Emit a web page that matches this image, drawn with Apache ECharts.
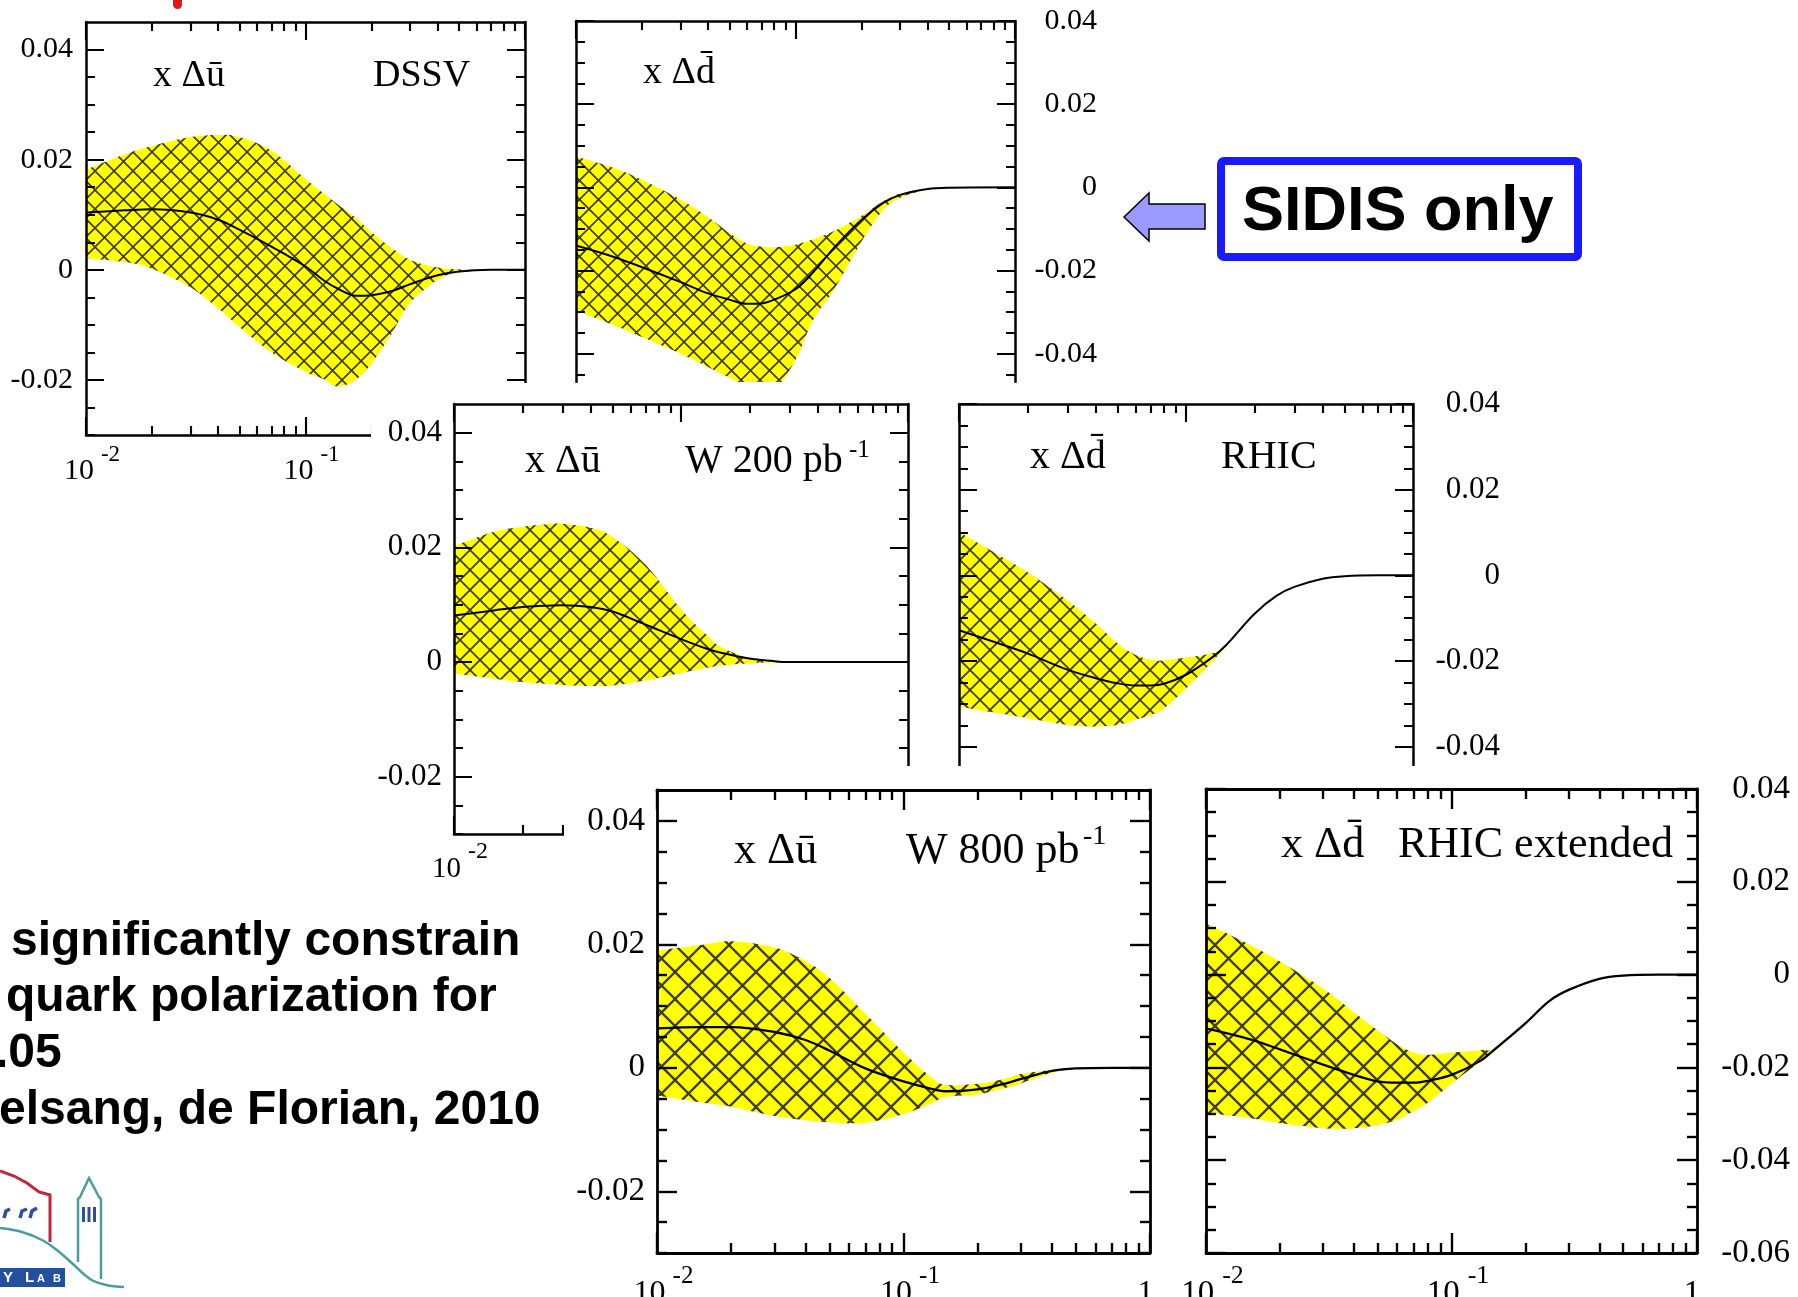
<!DOCTYPE html>
<html>
<head>
<meta charset="utf-8">
<script src="https://cdn.jsdelivr.net/npm/echarts@6/dist/echarts.min.js"></script>
<style>
  html, body { margin: 0; padding: 0; background: #fff; }
  #c { width: 1798px; height: 1297px; }
</style>
</head>
<body>
<div id="c"></div>
<script>
// ---- tick positions ----
const X_MINOR = [0.02, 0.03, 0.04, 0.05, 0.06, 0.07, 0.08, 0.09, 0.2, 0.3, 0.4, 0.5, 0.6, 0.7, 0.8, 0.9];
const Y_MAJOR = [-0.06, -0.04, -0.02, 0, 0.02, 0.04];
const Y_MINOR = [-0.055, -0.05, -0.045, -0.035, -0.03, -0.025, -0.015, -0.01, -0.005,
                 0.005, 0.01, 0.015, 0.025, 0.03, 0.035];

// ---- x Δū, DSSV (SIDIS only) ----
const ubarSidisX   = [0.01, 0.015, 0.02, 0.03, 0.04, 0.05, 0.07, 0.1, 0.12, 0.14, 0.17, 0.2, 0.25, 0.3, 0.4, 0.5, 0.7, 1];
const ubarSidisHi  = [0.0182, 0.021, 0.0225, 0.0241, 0.0245, 0.0241, 0.0216, 0.0165, 0.014, 0.0119, 0.0094, 0.0068, 0.0038, 0.0018, 0.0004, 0.0001, 0, 0];
const ubarSidisMid = [0.0104, 0.0108, 0.011, 0.0104, 0.0091, 0.0073, 0.0042, 0.0006, -0.0018, -0.0034, -0.0047, -0.0046, -0.0038, -0.0026, -0.001, -0.0003, 0, 0];
const ubarSidisLo  = [0.0021, 0.0014, 0.0002, -0.0032, -0.007, -0.0104, -0.015, -0.0185, -0.0198, -0.0212, -0.0199, -0.017, -0.0112, -0.006, -0.0018, -0.0005, 0, 0];

// ---- x Δd̄ (SIDIS only) ----
const dbarSidisX   = [0.01, 0.015, 0.02, 0.03, 0.04, 0.05, 0.06, 0.07, 0.08, 0.1, 0.12, 0.15, 0.2, 0.25, 0.3, 0.4, 0.5, 1];
const dbarSidisHi  = [0.0074, 0.0046, 0.0018, -0.003, -0.0072, -0.011, -0.0135, -0.0143, -0.0144, -0.0138, -0.0125, -0.0105, -0.0068, -0.0034, -0.0015, -0.0003, 0, 0];
const dbarSidisMid = [-0.014, -0.0168, -0.0192, -0.0228, -0.0255, -0.027, -0.028, -0.0279, -0.027, -0.0245, -0.0205, -0.0145, -0.0078, -0.0038, -0.0018, -0.0004, -0.0001, 0];
const dbarSidisLo  = [-0.0296, -0.0332, -0.036, -0.04, -0.0432, -0.0458, -0.048, -0.0492, -0.049, -0.0415, -0.032, -0.0245, -0.013, -0.0055, -0.0025, -0.0005, -0.0001, 0];

// ---- x Δū, W 200 pb^-1 ----
const ubarW200X   = [0.01, 0.015, 0.02, 0.025, 0.03, 0.04, 0.05, 0.07, 0.1, 0.13, 0.15, 0.2, 0.25, 0.3, 0.5, 1];
const ubarW200Hi  = [0.0202, 0.0227, 0.0236, 0.024, 0.0241, 0.0234, 0.0218, 0.0169, 0.0092, 0.0047, 0.0026, 0.0006, 0.0002, 0, 0, 0];
const ubarW200Mid = [0.0081, 0.009, 0.0096, 0.0098, 0.0099, 0.0096, 0.0088, 0.0065, 0.004, 0.0023, 0.0016, 0.0006, 0.0002, 0, 0, 0];
const ubarW200Lo  = [-0.002, -0.0029, -0.0035, -0.0038, -0.004, -0.0042, -0.0041, -0.0032, -0.0019, -0.001, -0.0006, -0.0002, -0.0001, 0, 0, 0];

// ---- x Δd̄, RHIC ----
const dbarRhicX   = [0.01, 0.015, 0.02, 0.03, 0.04, 0.05, 0.06, 0.07, 0.08, 0.1, 0.13, 0.15, 0.2, 0.25, 0.3, 0.4, 0.5, 0.7, 1];
const dbarRhicHi  = [0.0101, 0.0047, 0.0008, -0.0058, -0.0112, -0.0159, -0.0186, -0.0197, -0.0199, -0.0192, -0.0182, -0.0163, -0.009, -0.0048, -0.0027, -0.0008, -0.0002, 0, 0];
const dbarRhicMid = [-0.0128, -0.0159, -0.0182, -0.022, -0.024, -0.0252, -0.0257, -0.0257, -0.0253, -0.0232, -0.0192, -0.0163, -0.009, -0.0048, -0.0027, -0.0008, -0.0002, 0, 0];
const dbarRhicLo  = [-0.0306, -0.0322, -0.0333, -0.0349, -0.0353, -0.0349, -0.0337, -0.0326, -0.031, -0.0264, -0.0202, -0.0166, -0.009, -0.0048, -0.0027, -0.0008, -0.0002, 0, 0];

// ---- x Δū, W 800 pb^-1 ----
const ubarW800X   = [0.01, 0.015, 0.02, 0.03, 0.04, 0.05, 0.07, 0.1, 0.13, 0.15, 0.2, 0.25, 0.3, 0.4, 0.5, 0.7, 1];
const ubarW800Hi  = [0.019, 0.0199, 0.0205, 0.0195, 0.0173, 0.0146, 0.0088, 0.0025, -0.0016, -0.0028, -0.0026, -0.0019, -0.001, -0.0003, 0, 0, 0];
const ubarW800Mid = [0.0064, 0.0066, 0.0066, 0.0058, 0.0045, 0.0028, -0.0001, -0.0022, -0.0034, -0.0038, -0.0035, -0.0027, -0.0018, -0.0005, -0.0001, 0, 0];
const ubarW800Lo  = [-0.0045, -0.0056, -0.0063, -0.0078, -0.0085, -0.0088, -0.0089, -0.0075, -0.0057, -0.0047, -0.0043, -0.0034, -0.0025, -0.0008, -0.0002, 0, 0];

// ---- x Δd̄, RHIC extended ----
const dbarRhicExtX   = [0.01, 0.015, 0.02, 0.03, 0.04, 0.05, 0.06, 0.07, 0.08, 0.1, 0.13, 0.15, 0.2, 0.25, 0.3, 0.4, 0.5, 0.7, 1];
const dbarRhicExtHi  = [0.011, 0.0065, 0.0028, -0.003, -0.0081, -0.012, -0.015, -0.0168, -0.0173, -0.0168, -0.0163, -0.0158, -0.0105, -0.0057, -0.0033, -0.0009, -0.0002, 0, 0];
const dbarRhicExtMid = [-0.0116, -0.0139, -0.0161, -0.0194, -0.0216, -0.023, -0.0233, -0.0233, -0.0229, -0.0216, -0.0187, -0.0161, -0.0105, -0.0057, -0.0033, -0.0009, -0.0002, 0, 0];
const dbarRhicExtLo  = [-0.0298, -0.0309, -0.032, -0.0331, -0.0331, -0.0324, -0.0313, -0.0294, -0.0276, -0.0235, -0.0189, -0.0163, -0.0105, -0.0057, -0.0033, -0.0009, -0.0002, 0, 0];

// ---- panel layout: each frame is a separate plot, later ones lie on top ----
const PANELS = [
  { data: [ubarSidisX, ubarSidisHi, ubarSidisMid, ubarSidisLo],
    box: [86, 22, 439, 413], y: [-0.03, 0.045], side: 'left', bottom: true, zl: 0,
    fs: 30, margin: 13, xb: 30, xs: 23, raise: 16, xoff: 36,
    hatch: 19, hw: 1.7, cw: 2.0, lw: 2.5, tl: 18 },
  { data: [dbarSidisX, dbarSidisHi, dbarSidisMid, dbarSidisLo],
    box: [576, 21, 439, 361], y: [-0.0468, 0.04], side: 'right', bottom: false, zl: 0,
    fs: 30, margin: 82, hatch: 19, hw: 1.7, cw: 2.0, lw: 2.5, tl: 18 },
  { data: [ubarW200X, ubarW200Hi, ubarW200Mid, ubarW200Lo],
    box: [454, 404, 454, 430], y: [-0.03, 0.045], side: 'left', bottom: true, zl: 2,
    fs: 31, margin: 12, xb: 29, xs: 24, raise: 17, xoff: 35,
    hatch: 20, hw: 1.8, cw: 2.0, lw: 2.5, tl: 18 },
  { data: [dbarRhicX, dbarRhicHi, dbarRhicMid, dbarRhicLo],
    box: [959, 404, 454, 362], y: [-0.0445, 0.04], side: 'right', bottom: false, zl: 2,
    fs: 31, margin: 87, hatch: 20, hw: 1.8, cw: 2.0, lw: 2.5, tl: 18 },
  { data: [ubarW800X, ubarW800Hi, ubarW800Mid, ubarW800Lo],
    box: [657, 790, 493, 463], y: [-0.03, 0.045], side: 'left', bottom: true, zl: 4,
    fs: 33, margin: 12, xb: 32, xs: 25, raise: 18, xoff: 41,
    hatch: 27, hw: 2.3, cw: 2.3, lw: 2.8, tl: 20 },
  { data: [dbarRhicExtX, dbarRhicExtHi, dbarRhicExtMid, dbarRhicExtLo],
    box: [1206, 789, 491, 464], y: [-0.06, 0.04], side: 'right', bottom: true, zl: 4,
    fs: 33, margin: 93, xb: 33, xs: 26, raise: 18, xoff: 41,
    hatch: 27, hw: 2.3, cw: 2.3, lw: 2.8, tl: 20 }
];

const SERIF = 'Liberation Serif';
const SANS = 'Liberation Sans';

// yellow fill with a black diagonal cross-hatch
function hatchTile(size, width) {
  const c = document.createElement('canvas');
  c.width = size; c.height = size;
  const g = c.getContext('2d');
  g.fillStyle = '#ffff00';
  g.fillRect(0, 0, size, size);
  g.strokeStyle = 'rgba(20,20,0,0.82)';
  g.lineWidth = width;
  g.beginPath();
  for (const o of [-size, 0, size]) {
    g.moveTo(o, 0); g.lineTo(o + size, size);
    g.moveTo(o + size, 0); g.lineTo(o, size);
  }
  g.stroke();
  return c;
}

// smooth cubic segments through screen points (Catmull-Rom style)
function curveThrough(p) {
  const S = 1 / 6;
  let d = '';
  for (let k = 0; k < p.length - 1; k++) {
    const a = p[k - 1] || p[k], b = p[k], c = p[k + 1], e = p[k + 2] || c;
    const c1x = b[0] + (c[0] - a[0]) * S, c1y = b[1] + (c[1] - a[1]) * S;
    const c2x = c[0] - (e[0] - b[0]) * S, c2y = c[1] - (e[1] - b[1]) * S;
    d += ' C ' + c1x + ' ' + c1y + ' ' + c2x + ' ' + c2y + ' ' + c[0] + ' ' + c[1];
  }
  return d;
}

function yLabel(v) {
  return Math.abs(v) < 1e-9 ? '0' : v.toFixed(2);
}
function xLabel(v) {
  const e = Math.round(Math.log10(v));
  return e === 0 ? '{c|1}{s|\u200a}' : '{b|10}{s|' + e + '}';
}

const grids = [], xAxes = [], yAxes = [], series = [];

PANELS.forEach((p, i) => {
  const [left, top, width, height] = p.box;
  const [ymin, ymax] = p.y;
  const inRange = (v) => v >= ymin - 1e-9 && v <= ymax + 1e-9;
  const majors = Y_MAJOR.filter(inRange);
  const minors = Y_MINOR.filter(inRange);
  const axisLineStyle = { color: '#000', width: p.lw };
  const tickStyle = { color: '#000', width: p.lw * 0.85 };

  grids.push({ left, top, width, height, zlevel: p.zl, show: false,
               containLabel: false, outerBoundsMode: 'none' });

  const L = p.xb ? 2 * p.raise + p.xb : 40;
  const rich = p.xb ? {
    b: { fontFamily: SERIF, fontSize: p.xb, lineHeight: p.xb, verticalAlign: 'bottom',
         color: '#000', padding: [0, 0, 0, Math.round(p.xb * 0.4)] },
    c: { fontFamily: SERIF, fontSize: p.xb, lineHeight: p.xb, verticalAlign: 'bottom', color: '#000' },
    s: { fontFamily: SERIF, fontSize: p.xs, lineHeight: L, color: '#000',
         padding: [0, 0, 0, Math.round(p.xb * 0.23)] }
  } : {};

  ['bottom', 'top'].forEach((pos) => {
    const visible = pos === 'top' || p.bottom;
    xAxes.push({
      type: 'log', logBase: 10, min: 0.01, max: 1, gridIndex: i, position: pos,
      zlevel: p.zl, z: 3, show: visible,
      axisLine: { show: true, onZero: false, lineStyle: axisLineStyle },
      axisTick: { show: true, inside: true, length: p.tl, lineStyle: tickStyle },
      axisLabel: { show: pos === 'bottom' && p.bottom, margin: (p.xoff || 0) - (p.raise || 0),
                   verticalAlign: 'middle', formatter: xLabel, rich },
      splitLine: { show: false }
    });
    xAxes.push({
      type: 'value', min: -2, max: 0, gridIndex: i, position: pos,
      zlevel: p.zl, z: 3, show: visible,
      axisLine: { show: false, onZero: false },
      axisTick: { show: true, inside: true, length: p.tl / 2, lineStyle: tickStyle,
                  customValues: X_MINOR.map((v) => Math.log10(v)) },
      axisLabel: { show: false },
      splitLine: { show: false }
    });
  });

  ['left', 'right'].forEach((pos) => {
    const labelled = pos === p.side;
    yAxes.push({
      type: 'value', min: ymin, max: ymax, gridIndex: i, position: pos,
      zlevel: p.zl, z: 3,
      axisLine: { show: true, onZero: false, lineStyle: axisLineStyle },
      axisTick: { show: true, inside: true, length: p.tl, lineStyle: tickStyle, customValues: majors },
      axisLabel: { show: labelled, customValues: majors, formatter: yLabel, margin: p.margin,
                   align: 'right', fontFamily: SERIF, fontSize: p.fs, color: '#000' },
      splitLine: { show: false }
    });
    yAxes.push({
      type: 'value', min: ymin, max: ymax, gridIndex: i, position: pos,
      zlevel: p.zl, z: 3,
      axisLine: { show: false, onZero: false },
      axisTick: { show: true, inside: true, length: p.tl / 2, lineStyle: tickStyle, customValues: minors },
      axisLabel: { show: false },
      splitLine: { show: false }
    });
  });

  const [xs, hi, mid, lo] = p.data;
  const fillPattern = { image: hatchTile(p.hatch, p.hw), repeat: 'repeat' };

  // uncertainty band: region between the upper and lower curves
  series.push({
    type: 'custom', name: 'band' + i, coordinateSystem: 'cartesian2d',
    xAxisIndex: 4 * i, yAxisIndex: 4 * i, zlevel: p.zl, z: 2, clip: true, silent: true,
    animation: false,
    data: xs.map((x, k) => [x, lo[k], hi[k]]),
    encode: { x: 0, y: [1, 2] },
    renderItem(params, api) {
      if (params.dataIndex !== 0) return null;
      const up = xs.map((x, k) => api.coord([x, hi[k]]));
      const dn = xs.map((x, k) => api.coord([x, lo[k]])).reverse();
      const d = 'M ' + up[0][0] + ' ' + up[0][1] + curveThrough(up) +
                ' L ' + dn[0][0] + ' ' + dn[0][1] + curveThrough(dn) + ' Z';
      return { type: 'path', shape: { pathData: d }, style: { fill: fillPattern, stroke: null } };
    }
  });
  // central fit
  series.push({
    type: 'line', name: 'central' + i, xAxisIndex: 4 * i, yAxisIndex: 4 * i,
    zlevel: p.zl, z: 4, symbol: 'none', smooth: 0.35, silent: true, animation: false,
    data: xs.map((x, k) => [x, mid[k]]),
    lineStyle: { color: '#000', width: p.cw }
  });
});

// ---- annotation graphics ----
function txt(x, y, text, size, opts) {
  return Object.assign({
    type: 'text', x, y, silent: true,
    style: { text, fontSize: size, fontFamily: SERIF, fill: '#000',
             align: 'left', textAlign: 'left', verticalAlign: 'middle', textVerticalAlign: 'middle' }
  }, opts || {});
}
function bold(x, y, text, size, zl, color) {
  const t = txt(x, y, text, size, { zlevel: zl, z: 10 });
  t.style.fontFamily = SANS;
  t.style.fontWeight = 'bold';
  if (color) t.style.fill = color;
  return t;
}

const graphics = [
  // later frames cover what lies beneath them
  { type: 'rect', zlevel: 1, z: 0, silent: true, shape: { x: 371, y: 383, width: 1189, height: 497 }, style: { fill: '#fff' } },
  { type: 'rect', zlevel: 3, z: 0, silent: true, shape: { x: 564, y: 766, width: 1234, height: 531 }, style: { fill: '#fff' } },

  // frame captions
  txt(153, 76, 'x Δū', 38, { zlevel: 0, z: 10 }),
  txt(373, 76, 'DSSV', 38, { zlevel: 0, z: 10 }),
  txt(643, 73, 'x Δd\u0304', 38, { zlevel: 0, z: 10 }),
  txt(525, 461, 'x Δū', 40, { zlevel: 2, z: 10 }),
  txt(685, 461, 'W 200 pb', 40, { zlevel: 2, z: 10 }),
  txt(849, 450, '-1', 25, { zlevel: 2, z: 10 }),
  txt(1030, 457, 'x Δd\u0304', 40, { zlevel: 2, z: 10 }),
  txt(1221, 457, 'RHIC', 40, { zlevel: 2, z: 10 }),
  txt(734, 851, 'x Δū', 44, { zlevel: 4, z: 10 }),
  txt(906, 851, 'W 800 pb', 44, { zlevel: 4, z: 10 }),
  txt(1083, 837, '-1', 28, { zlevel: 4, z: 10 }),
  txt(1281, 845, 'x Δd\u0304', 44, { zlevel: 4, z: 10 }),
  txt(1398, 845, 'RHIC extended', 44, { zlevel: 4, z: 10 }),

  // "SIDIS only" call-out
  { type: 'polygon', zlevel: 5, z: 10, silent: true,
    shape: { points: [[1124, 217], [1149, 193], [1149, 204], [1205, 204], [1205, 229], [1149, 229], [1149, 241]] },
    style: { fill: '#9999ff', stroke: '#000', lineWidth: 1.5 } },
  { type: 'rect', zlevel: 5, z: 10, silent: true,
    shape: { x: 1221, y: 161, width: 357, height: 96, r: 3 },
    style: { fill: '#fff', stroke: '#1a1aff', lineWidth: 8 } },
  bold(1242, 213, 'SIDIS only', 63, 5),

  // slide text
  bold(11, 942, 'significantly constrain', 48, 5),
  bold(6, 998, 'quark polarization for', 48, 5),
  bold(-5, 1054, '.05', 48, 5),
  bold(-1, 1111, 'elsang, de Florian, 2010', 48, 5),

  // red pointer tip at the top edge
  { type: 'rect', zlevel: 5, z: 10, silent: true, shape: { x: 173, y: -12, width: 9, height: 21, r: 4.5 }, style: { fill: '#e8141c' } },

  // lab logo corner
  { type: 'polyline', zlevel: 5, z: 10, silent: true,
    shape: { points: [[0, 1171], [14, 1176], [27, 1183], [39, 1192], [50, 1195], [50, 1242]] },
    style: { stroke: '#c3263b', lineWidth: 3, fill: null } },
  { type: 'polyline', zlevel: 5, z: 10, silent: true,
    shape: { points: [[0, 1228], [22, 1232], [42, 1240], [58, 1251], [74, 1265], [90, 1279], [106, 1285], [124, 1287]], smooth: 0.4 },
    style: { stroke: '#4b9c9c', lineWidth: 2.5, fill: null } },
  { type: 'polyline', zlevel: 5, z: 10, silent: true,
    shape: { points: [[78, 1262], [78, 1199], [80, 1197], [89, 1178], [99, 1197], [101, 1199], [101, 1279]] },
    style: { stroke: '#4b9c9c', lineWidth: 2.5, fill: null } },
  { type: 'rect', zlevel: 5, z: 10, silent: true, shape: { x: 82, y: 1207, width: 3, height: 15 }, style: { fill: '#2b50a0' } },
  { type: 'rect', zlevel: 5, z: 10, silent: true, shape: { x: 87.5, y: 1207, width: 3, height: 15 }, style: { fill: '#2b50a0' } },
  { type: 'rect', zlevel: 5, z: 10, silent: true, shape: { x: 93, y: 1207, width: 3, height: 15 }, style: { fill: '#2b50a0' } },
  { type: 'polyline', zlevel: 5, z: 10, silent: true, shape: { points: [[4, 1218], [6, 1211], [10, 1209]] }, style: { stroke: '#2b50a0', lineWidth: 3.5, fill: null } },
  { type: 'polyline', zlevel: 5, z: 10, silent: true, shape: { points: [[20, 1218], [22, 1211], [27, 1209]] }, style: { stroke: '#2b50a0', lineWidth: 3.5, fill: null } },
  { type: 'polyline', zlevel: 5, z: 10, silent: true, shape: { points: [[30, 1218], [32, 1211], [37, 1208]] }, style: { stroke: '#2b50a0', lineWidth: 3.5, fill: null } },
  { type: 'rect', zlevel: 5, z: 10, silent: true, shape: { x: 0, y: 1268, width: 65, height: 19 }, style: { fill: '#234f9e' } },
  bold(3, 1278, 'Y', 15, 5, '#fff'),
  bold(25, 1278, 'L', 15, 5, '#fff'),
  bold(37, 1279, 'A', 11, 5, '#fff'),
  bold(53, 1279, 'B', 11, 5, '#fff')
];

const chart = echarts.init(document.getElementById('c'), null, { renderer: 'canvas', width: 1798, height: 1297 });
chart.setOption({
  backgroundColor: '#fff',
  animation: false,
  grid: grids,
  xAxis: xAxes,
  yAxis: yAxes,
  series,
  graphic: { elements: graphics }
});
</script>
</body>
</html>
